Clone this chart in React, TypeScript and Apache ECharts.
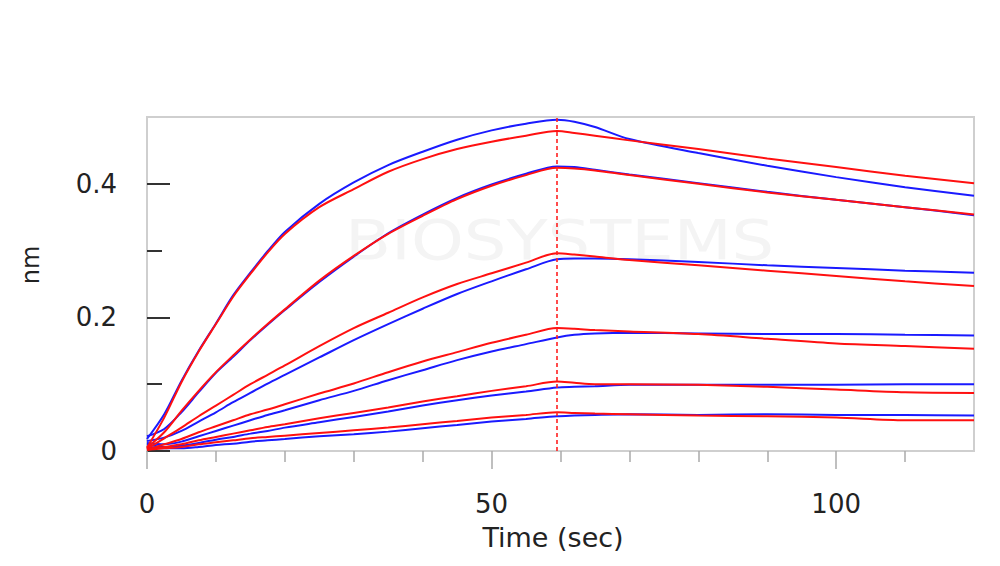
import React, { useEffect, useRef } from "react";
import * as echarts from "echarts";

// Time (sec) sample points shared by all curves
const TIME = [0, 2.5, 5, 7.5, 10, 12.5, 15, 17.5, 20, 25, 30, 35, 40, 45, 50, 55, 59.5, 62, 65, 70, 80, 90, 100, 110, 120];

// Measured (blue) responses, nm
const DATA_1 = [0.018, 0.055, 0.105, 0.15, 0.191, 0.233, 0.267, 0.299, 0.328, 0.37, 0.402, 0.428, 0.448, 0.466, 0.48, 0.49, 0.496, 0.493, 0.485, 0.467, 0.446, 0.427, 0.41, 0.395, 0.382];
const DATA_2 = [0.022, 0.033, 0.058, 0.088, 0.117, 0.141, 0.166, 0.189, 0.211, 0.253, 0.291, 0.326, 0.354, 0.379, 0.399, 0.415, 0.426, 0.425, 0.421, 0.414, 0.401, 0.388, 0.376, 0.365, 0.353];
const DATA_3 = [0.015, 0.02, 0.03, 0.044, 0.058, 0.073, 0.087, 0.101, 0.114, 0.14, 0.166, 0.19, 0.213, 0.235, 0.254, 0.272, 0.287, 0.288, 0.288, 0.287, 0.283, 0.278, 0.274, 0.27, 0.267];
const DATA_4 = [0.012, 0.01, 0.014, 0.022, 0.03, 0.038, 0.046, 0.054, 0.061, 0.076, 0.09, 0.106, 0.121, 0.136, 0.149, 0.16, 0.17, 0.174, 0.176, 0.177, 0.176, 0.175, 0.175, 0.174, 0.173];
const DATA_5 = [0.01, 0.006, 0.008, 0.012, 0.017, 0.021, 0.026, 0.03, 0.035, 0.043, 0.051, 0.059, 0.068, 0.076, 0.083, 0.089, 0.095, 0.096, 0.097, 0.099, 0.099, 0.099, 0.099, 0.1, 0.1];
const DATA_6 = [0.006, 0.004, 0.004, 0.006, 0.009, 0.011, 0.014, 0.016, 0.018, 0.022, 0.025, 0.029, 0.034, 0.039, 0.044, 0.048, 0.052, 0.053, 0.054, 0.055, 0.054, 0.055, 0.054, 0.054, 0.053];

// Fitted (red) responses, nm
const FIT_1 = [0.005, 0.05, 0.103, 0.149, 0.19, 0.231, 0.265, 0.297, 0.325, 0.365, 0.392, 0.418, 0.437, 0.452, 0.463, 0.472, 0.479, 0.476, 0.472, 0.465, 0.452, 0.438, 0.425, 0.412, 0.401];
const FIT_2 = [0.005, 0.028, 0.06, 0.09, 0.118, 0.143, 0.167, 0.19, 0.212, 0.255, 0.292, 0.325, 0.352, 0.377, 0.397, 0.413, 0.424, 0.423, 0.42, 0.413, 0.4, 0.387, 0.376, 0.365, 0.354];
const FIT_3 = [0.003, 0.019, 0.035, 0.052, 0.068, 0.084, 0.1, 0.114, 0.128, 0.157, 0.184, 0.207, 0.23, 0.25, 0.266, 0.282, 0.296, 0.294, 0.291, 0.286, 0.278, 0.27, 0.262, 0.254, 0.247];
const FIT_4 = [0.002, 0.01, 0.018, 0.028, 0.037, 0.046, 0.055, 0.062, 0.07, 0.086, 0.101, 0.118, 0.134, 0.148, 0.162, 0.174, 0.184, 0.183, 0.181, 0.179, 0.175, 0.168, 0.161, 0.157, 0.153];
const FIT_5 = [0.002, 0.006, 0.01, 0.016, 0.021, 0.026, 0.031, 0.036, 0.04, 0.049, 0.057, 0.065, 0.074, 0.082, 0.09, 0.097, 0.104, 0.102, 0.1, 0.1, 0.099, 0.096, 0.092, 0.088, 0.087];
const FIT_6 = [0.002, 0.004, 0.006, 0.01, 0.013, 0.016, 0.019, 0.021, 0.023, 0.027, 0.031, 0.035, 0.04, 0.045, 0.05, 0.054, 0.058, 0.057, 0.056, 0.055, 0.053, 0.052, 0.05, 0.046, 0.046];

const DATA_SERIES = [DATA_1, DATA_2, DATA_3, DATA_4, DATA_5, DATA_6];
const FIT_SERIES = [FIT_1, FIT_2, FIT_3, FIT_4, FIT_5, FIT_6];

// Phase switch (association -> dissociation), sec
const PHASE_SWITCH = 59.5;

// Ticks and labels
const X_MAJOR = [0, 50, 100];
const X_MINOR = [10, 20, 30, 40, 60, 70, 80, 90, 110];
const Y_MAJOR = [0, 0.2, 0.4];
const Y_MINOR = [0.1, 0.3];
const X_NAME = "Time (sec)";
const Y_NAME = "nm";
const WATERMARK = "BIOSYSTEMS";

const FONT = "DejaVu Sans";

export default function App() {
  const ref = useRef<HTMLDivElement>(null);

  useEffect(() => {
    document.body.style.margin = "0";
    if (!ref.current) return;
    const chart = echarts.init(ref.current, null, { renderer: "svg" });

    const toPairs = (arr: number[]) => TIME.map((t, i) => [t, arr[i]]);

    const series: any[] = [];
    FIT_SERIES.forEach((arr, i) => {
      const s: any = {
        type: "line",
        name: "fit" + (i + 1),
        data: toPairs(arr),
        showSymbol: false,
        smooth: 0.3,
        lineStyle: { color: "#ff1010", width: 2 },
        z: 3,
      };
      if (i === 0) {
        s.markLine = {
          silent: true,
          symbol: ["none", "none"],
          label: { show: false },
          lineStyle: { color: "#ff2020", type: [4, 3], width: 1.6 },
          data: [{ xAxis: PHASE_SWITCH }],
        };
      }
      series.push(s);
    });
    DATA_SERIES.forEach((arr, i) => {
      series.push({
        type: "line",
        name: "data" + (i + 1),
        data: toPairs(arr),
        showSymbol: false,
        smooth: 0.3,
        lineStyle: { color: "#1a1aff", width: 2 },
        z: 2,
      });
    });

    chart.setOption({
      animation: false,
      backgroundColor: "#ffffff",
      textStyle: { fontFamily: FONT },
      grid: {
        left: 147,
        top: 117,
        width: 827,
        height: 334,
        show: true,
        borderColor: "#cfcfcf",
        borderWidth: 2,
        backgroundColor: "transparent",
        outerBoundsMode: "none",
      },
      graphic: [
        {
          type: "text",
          x: 345,
          y: 212,
          scaleX: 1.2,
          z: 0,
          silent: true,
          style: {
            text: WATERMARK,
            fontSize: 56,
            fontFamily: FONT,
            fill: "#f4f4f4",
          },
        },
        {
          type: "text",
          x: 31,
          y: 265,
          rotation: Math.PI / 2,
          silent: true,
          style: {
            text: Y_NAME,
            fontSize: 24,
            fontFamily: FONT,
            fill: "#222",
            align: "center",
            verticalAlign: "middle",
          },
        },
        {
          type: "text",
          x: 553,
          y: 537,
          silent: true,
          style: {
            text: X_NAME,
            fontSize: 27,
            fontFamily: FONT,
            fill: "#222",
            align: "center",
            verticalAlign: "middle",
          },
        },
      ],
      xAxis: [
        {
          type: "value",
          min: 0,
          max: 120,
          position: "bottom",
          splitLine: { show: false },
          axisLine: { show: true, lineStyle: { color: "#cfcfcf", width: 2 } },
          axisTick: {
            show: true,
            inside: false,
            length: 18,
            customValues: X_MAJOR,
            lineStyle: { color: "#aaaaaa", width: 1.5 },
          },
          axisLabel: {
            show: true,
            customValues: X_MAJOR,
            margin: 40,
            fontSize: 26,
            color: "#222",
            fontFamily: FONT,
          },
        },
        {
          type: "value",
          min: 0,
          max: 120,
          position: "bottom",
          offset: 0,
          splitLine: { show: false },
          axisLine: { show: false },
          axisLabel: { show: false },
          axisTick: {
            show: true,
            inside: false,
            length: 11,
            customValues: X_MINOR,
            lineStyle: { color: "#aaaaaa", width: 1.5 },
          },
        },
      ],
      yAxis: [
        {
          type: "value",
          min: 0,
          max: 0.5,
          position: "left",
          splitLine: { show: false },
          axisLine: { show: true, lineStyle: { color: "#cfcfcf", width: 2 } },
          axisTick: {
            show: true,
            inside: true,
            length: 23,
            customValues: Y_MAJOR,
            lineStyle: { color: "#333", width: 2 },
          },
          axisLabel: {
            show: true,
            customValues: Y_MAJOR,
            margin: 30,
            fontSize: 26,
            color: "#222",
            fontFamily: FONT,
            formatter: (v: number) => String(v),
          },
        },
        {
          type: "value",
          min: 0,
          max: 0.5,
          position: "left",
          offset: 0,
          splitLine: { show: false },
          axisLine: { show: false },
          axisLabel: { show: false },
          axisTick: {
            show: true,
            inside: true,
            length: 15,
            customValues: Y_MINOR,
            lineStyle: { color: "#333", width: 2 },
          },
        },
      ],
      series,
    });

    return () => chart.dispose();
  }, []);

  return <div ref={ref} style={{ width: 1000, height: 566 }} />;
}
